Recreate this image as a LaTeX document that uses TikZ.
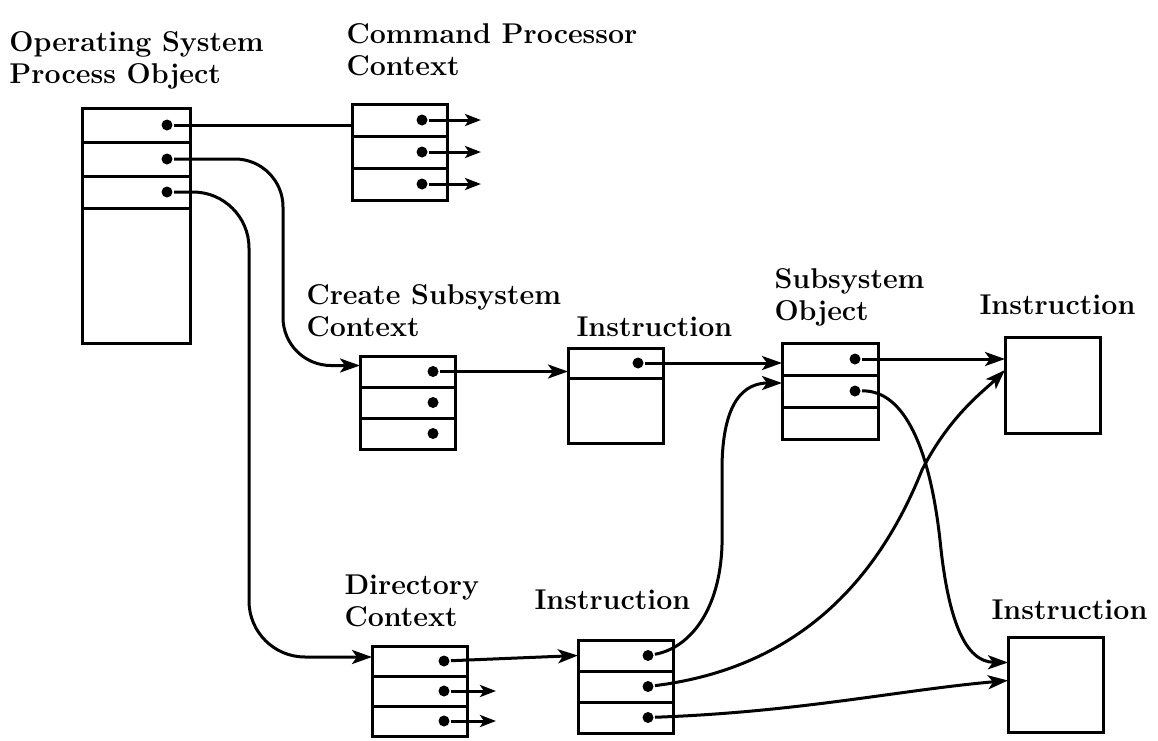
\documentclass[tikz,border=0pt]{standalone}
\usepackage{amsmath}
\usepackage{tikz}
\usetikzlibrary{positioning,arrows.meta}

\tikzset{
  cell/.style={draw, rectangle, inner sep=0pt, outer sep=0pt, minimum width=47.5pt, minimum height=#1},
  cell/.default=16pt,
  ptr/.style={circle, fill, inner sep=0pt, minimum size=5.5pt},
  wire/.style={line width=1.5pt},
  link/.style={wire, -{Stealth[length=10pt,width=7pt,inset=2.5pt]}},
  stub/.style={wire, -{Stealth[length=8pt,width=6pt,inset=2pt]}},
  lbl/.style={anchor=north west, inner sep=0pt, align=left, font=\fontsize{14.3}{16}\selectfont\bfseries}
}

\begin{document}
\begin{tikzpicture}[x=0.5pt,y=-0.5pt,line width=1.5pt]
\useasboundingbox (0,0) rectangle (1158,740);

% labels
\node[lbl] (oslbl) at (8,30) {Operating System\\Process Object};
\node[lbl] (cmdlbl) at (345,22) {Command Processor\\Context};
\node[lbl] (csclbl) at (305,283) {Create Subsystem\\Context};
\node[lbl] (inslbl) at (575,315) {Instruction};
\node[lbl] (sublbl) at (773,267) {Subsystem\\Object};
\node[lbl] (itrlbl) at (978,293) {Instruction};
\node[lbl] (dirlbl) at (343,573) {Directory\\Context};
\node[lbl] (dilbl) at (533,588) {Instruction};
\node[lbl] (ibrlbl) at (990,598) {Instruction};

% operating system process object
\node[cell=17pt, minimum width=54pt, anchor=north west] (os1) at (82,108) {};
\node[cell=17pt, minimum width=54pt, below=0pt of os1] (os2) {};
\node[cell=16pt, minimum width=54pt, below=0pt of os2] (os3) {};
\node[cell=67.5pt, minimum width=54pt, below=0pt of os3] (os4) {};
\foreach \i in {1,2,3}
  \node[ptr] (os\i-d) at ([xshift=-11.5pt]os\i.east) {};

% command processor context
\node[cell, anchor=north west] (cmd1) at (352,104) {};
\node[cell, below=0pt of cmd1] (cmd2) {};
\node[cell, below=0pt of cmd2] (cmd3) {};
\foreach \i in {1,2,3} {
  \node[ptr] (cmd\i-d) at ([xshift=-12.5pt]cmd\i.east) {};
  \coordinate (cmd\i-x) at ([xshift=17pt]cmd\i.east);
  \draw[stub] (cmd\i-d) -- (cmd\i-x);
}

% create subsystem context
\node[cell=15.5pt, anchor=north west] (csc1) at (360,356) {};
\node[cell=15.5pt, below=0pt of csc1] (csc2) {};
\node[cell=15.5pt, below=0pt of csc2] (csc3) {};
\foreach \i in {1,2,3}
  \node[ptr] (csc\i-d) at ([xshift=-11pt]csc\i.east) {};

% instruction
\node[cell=15pt, anchor=north west] (ins1) at (568,348) {};
\node[cell=32.5pt, below=0pt of ins1] (ins2) {};
\node[ptr] (ins1-d) at ([xshift=-12.5pt]ins1.east) {};

% subsystem object
\node[cell, minimum width=48pt, anchor=north west] (sub1) at (782,343) {};
\node[cell, minimum width=48pt, below=0pt of sub1] (sub2) {};
\node[cell, minimum width=48pt, below=0pt of sub2] (sub3) {};
\foreach \i in {1,2}
  \node[ptr] (sub\i-d) at ([xshift=-11.5pt]sub\i.east) {};

% instructions on the right
\node[cell=48pt, anchor=north west] (itr) at (1005,337) {};
\node[cell=47.5pt, anchor=north west] (ibr) at (1008,637) {};

% directory context
\node[cell=15pt, anchor=north west] (dc1) at (372,646) {};
\node[cell=15pt, below=0pt of dc1] (dc2) {};
\node[cell=15pt, below=0pt of dc2] (dc3) {};
\foreach \i in {1,2,3}
  \node[ptr] (dc\i-d) at ([xshift=-11.5pt]dc\i.east) {};
\foreach \i in {2,3} {
  \coordinate (dc\i-x) at ([xshift=14.5pt]dc\i.east);
  \draw[stub] (dc\i-d) -- (dc\i-x);
}

% instruction below
\node[cell=15.5pt, anchor=north west] (di1) at (578,640) {};
\node[cell=15.5pt, below=0pt of di1] (di2) {};
\node[cell=15.5pt, below=0pt of di2] (di3) {};
\foreach \i in {1,2,3}
  \node[ptr] (di\i-d) at ([xshift=-12.5pt]di\i.east) {};

% pointers
\draw[wire] (os1-d) -- (os1-d -| cmd1.west);
\coordinate (os2-v) at (283,260);
\draw[link, rounded corners=24pt] (os2-d) -| (os2-v) |- ([yshift=3pt]csc1.west);
\coordinate (os3-v) at (249,420);
\draw[link, rounded corners=28pt] (os3-d) -| (os3-v) |- ([yshift=2pt]dc1.west);

\draw[link] (csc1-d) -- (csc1-d -| ins1.west);
\draw[link] (ins1-d) -- (ins1-d -| sub1.west);
\draw[link] (sub1-d) -- (sub1-d -| itr.west);
\draw[link] (sub2-d) .. controls (905,390) and (930,450) .. (940,540)
  .. controls (948,620) and (965,662) .. ([yshift=11pt]ibr.west);

\draw[link] (dc1-d) -- (di1.west);
\draw[link] (di1-d) .. controls (690,648) and (720,610) .. (722,545)
  -- (722,470) .. controls (722,400) and (745,383) .. ([yshift=4pt]sub2.west);
\draw[link] (di2-d) .. controls (780,670) and (870,600) .. (922,470)
  .. controls (950,415) and (985,390) .. ([yshift=7.5pt]itr.west);
\draw[link] (di3-d) .. controls (800,712) and (900,690) .. ([yshift=2pt]ibr.west);
\end{tikzpicture}
\end{document}
